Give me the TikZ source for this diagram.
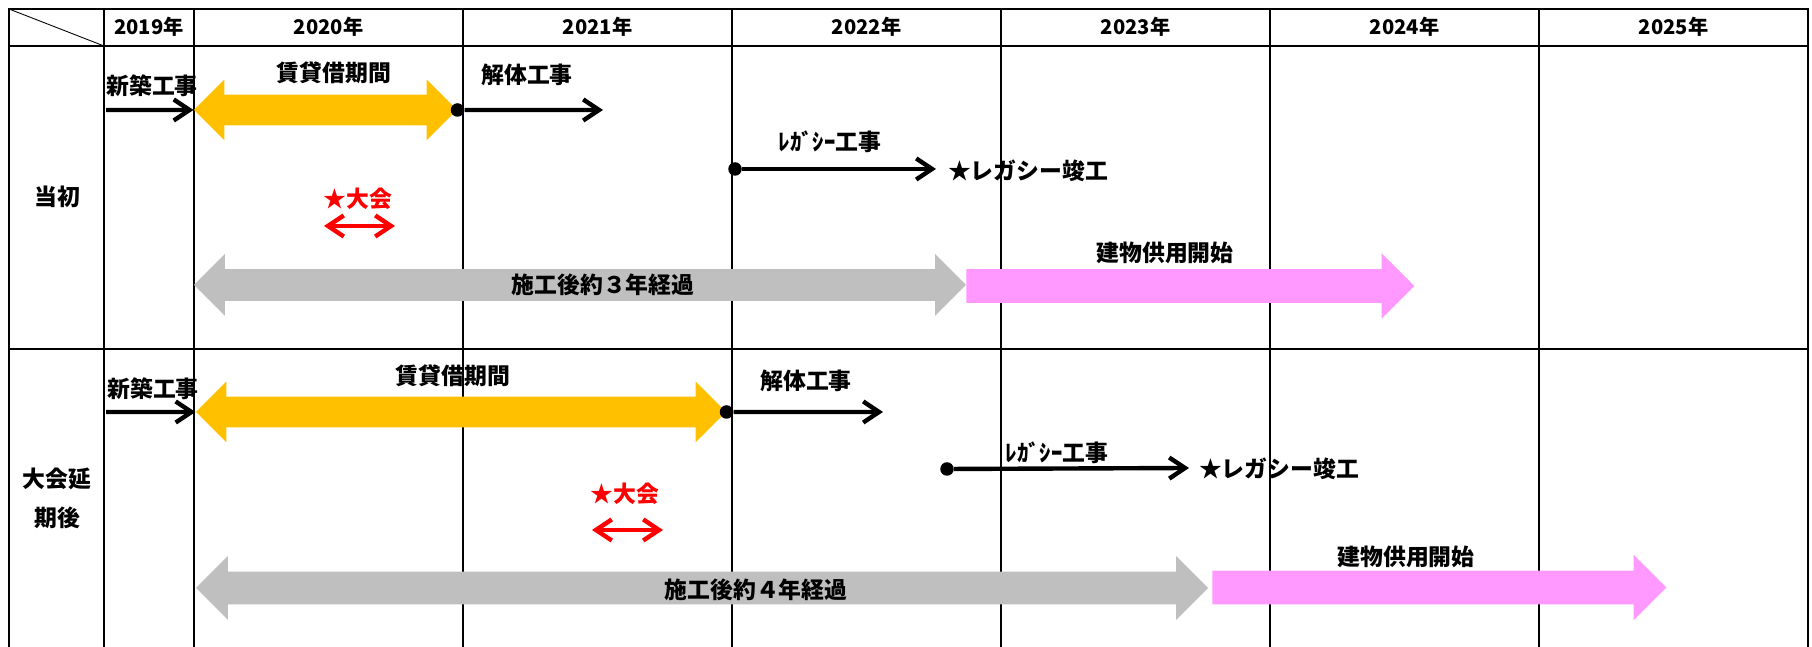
\documentclass[tikz,border=0pt]{standalone}
\usepackage{fontspec}
\newfontfamily\jpfont{Noto Sans CJK JP}
\usetikzlibrary{arrows.meta, positioning, shapes, calc}
\definecolor{leaseorange}{HTML}{FFC000}
\definecolor{usepink}{HTML}{FF99FF}
\definecolor{spangray}{HTML}{BFBFBF}
\begin{document}
\begin{tikzpicture}[
    gridline/.style={line width=1.1pt},
    year/.style={font=\jpfont\bfseries\fontsize{11.5}{13}\selectfont},
    txt/.style={font=\jpfont\bfseries\fontsize{13}{15}\selectfont, inner sep=1pt},
    work/.style={line width=2.5pt, -{Straight Barb[length=9pt,width=12pt]}},
    games/.style={line width=2.5pt, red, {Straight Barb[length=9pt,width=12pt]}-{Straight Barb[length=9pt,width=12pt]}},
    joint/.style={circle, fill=black, inner sep=0pt, minimum size=0.27cm},
    span/.style={double arrow, double arrow tip angle=90, inner sep=0pt, text height=0.6cm, text depth=0cm, double arrow head extend=0.3cm},
    usage/.style={single arrow, single arrow tip angle=90, inner sep=0pt, fill=usepink, text height=0.66cm, text depth=0cm, single arrow head extend=0.32cm, anchor=tail}
]
\useasboundingbox (0,0) rectangle (36.24,12.94);

% Table grid
\draw[gridline] (0.18,0) -- (0.18,12.76) -- (36.16,12.76) -- (36.16,0);
\draw[gridline] (0.18,12.02) -- (36.16,12.02);
\draw[gridline] (0.18,5.96) -- (36.16,5.96);
\draw[gridline] (2.08,0) -- (2.08,12.76);
\draw[gridline] (3.88,0) -- (3.88,12.76);
\draw[gridline] (9.26,0) -- (9.26,12.76);
\draw[gridline] (14.64,0) -- (14.64,12.76);
\draw[gridline] (20.02,0) -- (20.02,12.76);
\draw[gridline] (25.40,0) -- (25.40,12.76);
\draw[gridline] (30.78,0) -- (30.78,12.76);
\draw[line width=0.5pt] (0.18,12.76) -- (2.08,12.02);

% Years
\node[year] (y2019) at (2.98,12.40) {2019年};
\node[year] (y2020) at (6.57,12.40) {2020年};
\node[year] (y2021) at (11.95,12.40) {2021年};
\node[year] (y2022) at (17.33,12.40) {2022年};
\node[year] (y2023) at (22.71,12.40) {2023年};
\node[year] (y2024) at (28.09,12.40) {2024年};
\node[year] (y2025) at (33.47,12.40) {2025年};

% Row titles
\node[txt] (plan) at (1.14,9.00) {当初};
\node[txt, align=center, font=\jpfont\bfseries\fontsize{13}{22}\selectfont] (delay) at (1.14,2.97) {大会延\\期後};

% Original plan
\node[span, fill=leaseorange, minimum height=5.26cm] (lease1) at (6.51,10.74) {};
\node[span, fill=spangray, minimum height=15.44cm, text height=0.62cm] (span1) at (11.60,7.24) {};
\node[usage, minimum height=8.96cm] (use1) at (19.32,7.22) {};

\coordinate (build1s) at (2.12,10.74);
\draw[work] (build1s) -- (lease1.west);
\node[joint] (demo1s) at (lease1.east) {};
\coordinate (demo1e) at (12.06,10.74);
\draw[work] (demo1s) -- (demo1e);
\node[joint] (legacy1s) at (14.70,9.56) {};
\coordinate (legacy1e) at (18.72,9.56);
\draw[work] (legacy1s) -- (legacy1e);
\coordinate (games1s) at (6.48,8.42);
\coordinate (games1e) at (7.90,8.42);
\draw[games] (games1s) -- (games1e);

\node[txt] (build1) at (3.04,11.22) {新築工事};
\node[txt] (lease1lbl) at (6.68,11.48) {賃貸借期間};
\node[txt] (demo1) at (10.54,11.44) {解体工事};
\node[txt] (legacy1) at (16.60,10.10) {ﾚｶﾞｼｰ工事};
\node[txt, anchor=west] (legacy1done) at (18.92,9.52) {★レガシー竣工};
\node[txt, red] (games1lbl) at (7.16,8.96) {★大会};
\node[txt] (span1lbl) at (12.06,7.24) {施工後約３年経過};
\node[txt] (use1lbl) at (23.30,7.88) {建物供用開始};

% After postponement
\node[span, fill=leaseorange, minimum height=10.60cm] (lease2) at (9.22,4.70) {};
\node[span, fill=spangray, minimum height=20.24cm, text height=0.64cm, double arrow head extend=0.31cm] (span2) at (14.04,1.18) {};
\node[usage, minimum height=9.08cm] (use2) at (24.24,1.19) {};

\coordinate (build2s) at (2.12,4.70);
\draw[work] (build2s) -- (lease2.west);
\node[joint] (demo2s) at (lease2.east) {};
\coordinate (demo2e) at (17.66,4.70);
\draw[work] (demo2s) -- (demo2e);
\node[joint] (legacy2s) at (18.94,3.56) {};
\coordinate (legacy2e) at (23.78,3.58);
\draw[work] (legacy2s) -- (legacy2e);
\coordinate (games2s) at (11.84,2.34);
\coordinate (games2e) at (13.26,2.34);
\draw[games] (games2s) -- (games2e);

\node[txt] (build2) at (3.06,5.16) {新築工事};
\node[txt] (lease2lbl) at (9.06,5.42) {賃貸借期間};
\node[txt] (demo2) at (16.12,5.32) {解体工事};
\node[txt] (legacy2) at (21.14,3.88) {ﾚｶﾞｼｰ工事};
\node[txt, anchor=west] (legacy2done) at (23.94,3.56) {★レガシー竣工};
\node[txt, red] (games2lbl) at (12.50,3.06) {★大会};
\node[txt] (span2lbl) at (15.12,1.14) {施工後約４年経過};
\node[txt] (use2lbl) at (28.12,1.80) {建物供用開始};

\end{tikzpicture}
\end{document}
